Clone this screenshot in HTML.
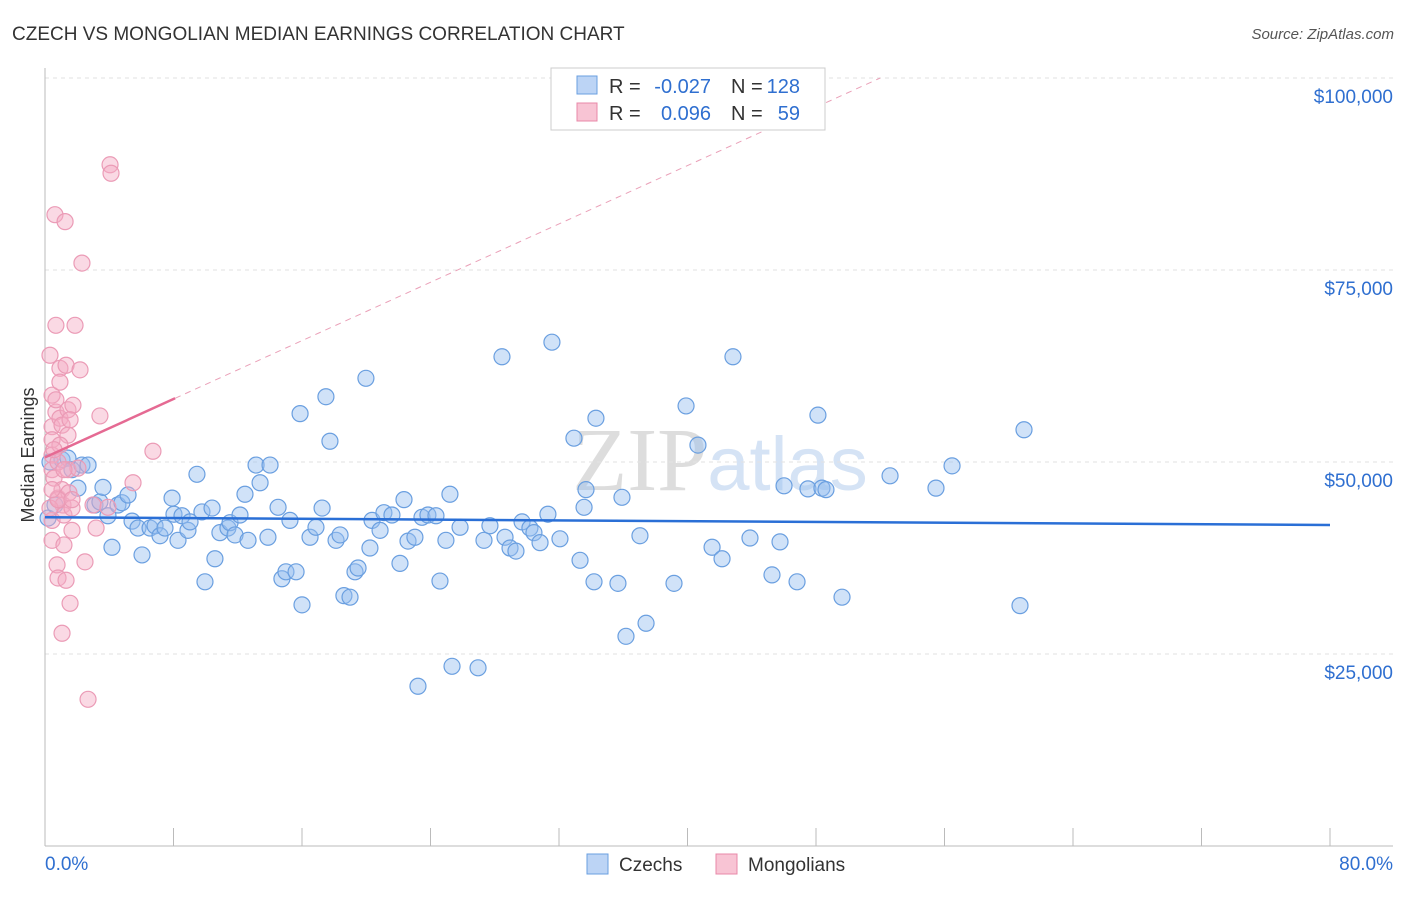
<!DOCTYPE html>
<html><head><meta charset="utf-8"><style>
body{margin:0;background:#fff;font-family:"Liberation Sans",sans-serif;}
svg text{font-family:"Liberation Sans",sans-serif;}
</style></head><body>
<svg id="chart" width="1406" height="892" xmlns="http://www.w3.org/2000/svg">
<text x="12" y="40" font-size="19" fill="#333">CZECH VS MONGOLIAN MEDIAN EARNINGS CORRELATION CHART</text>
<text x="1394" y="39" font-size="15" fill="#555" text-anchor="end" font-style="italic">Source: ZipAtlas.com</text>
<text x="720" y="490" font-size="90" fill="#e4e4e4" text-anchor="middle"><tspan font-family="Liberation Serif" fill="#ddd">ZIP</tspan><tspan fill="#d5e3f5" font-size="76">atlas</tspan></text>
<g id="grid"></g>
<g id="axes"></g>
<g id="marks"></g>
<text x="34" y="455" font-size="18" fill="#333" text-anchor="middle" transform="rotate(-90 34 455)">Median Earnings</text>
<g>
<rect x="551" y="68" width="274" height="62" fill="#fff" stroke="#ccc"/>
<rect x="577" y="76" width="20" height="18" fill="#bcd4f5" stroke="#6a9fe0"/>
<rect x="577" y="103" width="20" height="18" fill="#f8c4d4" stroke="#e888a8"/>
<text x="609" y="93" font-size="20" fill="#333">R =</text>
<text x="711" y="93" font-size="20" fill="#2f6fd0" text-anchor="end">-0.027</text>
<text x="731" y="93" font-size="20" fill="#333">N =</text>
<text x="800" y="93" font-size="20" fill="#2f6fd0" text-anchor="end">128</text>
<text x="609" y="120" font-size="20" fill="#333">R =</text>
<text x="711" y="120" font-size="20" fill="#2f6fd0" text-anchor="end">0.096</text>
<text x="731" y="120" font-size="20" fill="#333">N =</text>
<text x="800" y="120" font-size="20" fill="#2f6fd0" text-anchor="end">59</text>
</g>
<g>
<rect x="587" y="854" width="21" height="20" fill="#bcd4f5" stroke="#6a9fe0"/>
<text x="619" y="871" font-size="19" fill="#333">Czechs</text>
<rect x="716" y="854" width="21" height="20" fill="#f8c4d4" stroke="#e888a8"/>
<text x="748" y="871" font-size="19" fill="#333">Mongolians</text>
</g>
</svg>
<script>
const blueX=[0.19,0.31,0.62,1.06,1.43,1.68,2.05,2.30,2.68,3.11,3.42,3.61,3.92,4.17,4.54,4.79,5.17,5.42,5.79,6.04,6.54,6.85,7.16,7.47,7.91,8.03,8.28,8.53,8.90,9.03,9.46,9.77,9.96,10.40,10.58,10.89,11.39,11.52,11.83,12.14,12.45,12.64,13.14,13.39,13.88,14.01,14.51,14.75,15.00,15.25,15.63,15.88,16.00,16.50,16.87,17.25,17.49,17.74,18.12,18.37,18.61,18.99,19.30,19.49,19.98,20.23,20.36,20.86,21.10,21.60,22.10,22.35,22.60,23.03,23.22,23.47,23.84,24.34,24.59,24.96,25.21,25.34,25.84,26.96,27.33,27.70,28.45,28.64,28.95,29.32,29.70,30.19,30.44,30.82,31.31,31.56,32.06,32.93,33.31,33.56,33.68,34.18,34.30,35.67,35.92,36.17,37.04,37.42,39.16,39.91,40.65,41.53,42.15,42.83,43.89,45.26,45.76,46.01,46.82,47.50,48.12,48.37,48.62,49.62,52.61,55.47,56.47,60.70,60.95];
const blueY=[42.7,50.0,44.4,50.3,50.5,49.0,46.6,49.6,49.6,44.4,44.8,46.7,43.0,38.9,44.4,44.7,45.7,42.3,41.4,37.9,41.4,41.7,40.4,41.4,45.3,43.2,39.8,43.0,41.1,42.2,48.4,43.5,34.4,44.0,37.4,40.8,41.4,42.1,40.5,43.1,45.8,39.8,49.6,47.3,40.2,49.6,44.1,34.8,35.7,42.4,35.7,56.3,31.4,40.2,41.5,44.0,58.5,52.7,39.8,40.5,32.6,32.4,35.7,36.2,60.9,38.8,42.4,41.1,43.4,43.1,36.8,45.1,39.7,40.2,20.8,42.8,43.1,43.0,34.5,39.8,45.8,23.4,41.5,23.2,39.8,41.7,63.7,40.2,38.8,38.4,42.2,41.4,40.8,39.5,43.2,65.6,40.0,53.1,37.2,44.1,46.4,34.4,55.7,34.2,45.4,27.3,40.4,29.0,34.2,57.3,52.2,38.9,37.4,63.7,40.1,35.3,39.6,46.9,34.4,46.5,56.1,46.6,46.4,32.4,48.2,46.6,49.5,31.3,54.2];
const pinkX=[0.31,0.44,0.44,0.44,0.44,0.44,0.44,0.44,0.56,0.62,0.68,0.68,0.75,0.81,0.81,0.93,0.93,0.93,1.06,1.06,1.12,1.18,1.25,1.31,1.43,1.43,1.43,1.49,1.56,1.68,1.68,1.74,1.87,2.05,2.18,2.30,2.49,2.68,2.99,3.18,3.42,3.92,4.05,4.11,5.48,6.72,1.06,0.81,0.93,0.68,1.18,1.31,0.31,0.56,0.81,1.18,1.68,0.44,1.56];
const pinkY=[63.9,58.7,54.6,52.9,50.9,49.0,42.4,39.8,47.9,82.2,67.8,56.5,36.6,45.3,34.9,62.2,60.4,55.7,54.8,46.4,44.4,43.1,81.3,62.6,56.8,53.5,49.0,46.0,31.6,44.0,41.1,57.4,67.8,49.2,62.0,75.9,37.0,19.1,44.4,41.4,56.0,44.1,88.7,87.6,47.3,51.4,27.7,50.0,52.2,58.1,39.2,34.6,44.0,51.6,45.1,49.0,45.1,46.4,55.5];
const blueTrend=[42.8,41.8];
const pinkTrend=[50.6,0.95];
const pinkSolidEnd=8.1;
const yTicks=[25,50,75,100];
const yTickLabels=["$25,000","$50,000","$75,000","$100,000"];
const xTicks=[0,8,16,24,32,40,48,56,64,72,80];

const NS="http://www.w3.org/2000/svg";
const sx=v=>45+v*(1285/80);
const sy=v=>846-v*7.68;
function mk(t,a,p){const e=document.createElementNS(NS,t);for(const k in a)e.setAttribute(k,a[k]);p.appendChild(e);return e;}
const grid=document.getElementById('grid'),axes=document.getElementById('axes'),marks=document.getElementById('marks');
yTicks.forEach((v,i)=>{
 const l=mk('line',{x1:45,x2:1393,y1:sy(v),y2:sy(v),stroke:'#e2e2e2','stroke-dasharray':'4,4'},grid);
 
 
 const t=mk('text',{x:1393,y:sy(v)+25,'font-size':19,fill:'#2f6fd0','text-anchor':'end'},axes);
 t.textContent=yTickLabels[i];
 
 
});
const xa=mk('line',{x1:45,x2:1393,y1:846,y2:846,stroke:'#bbb'},axes);


const ya=mk('line',{x1:45,x2:45,y1:68,y2:846,stroke:'#bbb'},axes);


xTicks.forEach(v=>{
 const t=mk('line',{x1:sx(v),x2:sx(v),y1:828,y2:846,stroke:'#bbb'},axes);
 
 
});
const xl0=mk('text',{x:45,y:870,'font-size':19,fill:'#2f6fd0'},axes);xl0.textContent="0.0%";


const xl1=mk('text',{x:1393,y:870,'font-size':19,fill:'#2f6fd0','text-anchor':'end'},axes);xl1.textContent="80.0%";



blueX.forEach((x,i)=>{
 const c=mk('circle',{cx:sx(x),cy:sy(blueY[i]),r:8,fill:'rgba(150,190,240,0.45)',stroke:'#6a9fe0','stroke-width':1.2},marks);
 
 
});
pinkX.forEach((x,i)=>{
 const c=mk('circle',{cx:sx(x),cy:sy(pinkY[i]),r:8,fill:'rgba(245,170,195,0.45)',stroke:'#eb9bb6','stroke-width':1.2},marks);
 
 
});
const bt=mk('line',{x1:sx(0),y1:sy(blueTrend[0]),x2:sx(80),y2:sy(blueTrend[1]),stroke:'#2a6fd6','stroke-width':2.5},marks);


const pe=(100-pinkTrend[0])/pinkTrend[1];
const pd=mk('line',{x1:sx(pinkSolidEnd),y1:sy(pinkTrend[0]+pinkTrend[1]*pinkSolidEnd),x2:sx(pe),y2:sy(100),stroke:'#eaa0b8','stroke-width':1,'stroke-dasharray':'6,5'},marks);


const ps=mk('line',{x1:sx(0),y1:sy(pinkTrend[0]),x2:sx(pinkSolidEnd),y2:sy(pinkTrend[0]+pinkTrend[1]*pinkSolidEnd),stroke:'#e56a93','stroke-width':2.5},marks);


</script>
</body></html>
